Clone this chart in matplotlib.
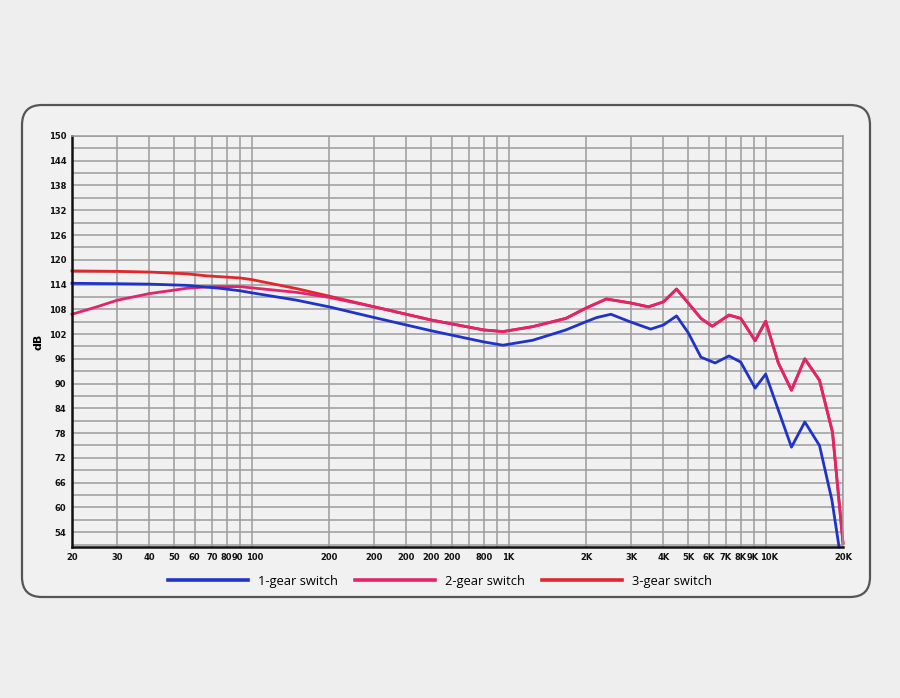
import matplotlib
matplotlib.use("Agg")
import matplotlib.pyplot as plt
import matplotlib.transforms as mtransforms
from matplotlib.patches import FancyBboxPatch
from matplotlib.lines import Line2D

# frequency response readings (Hz, dB)
blue_freq = [20, 30, 40, 56, 75, 90, 100, 150, 200, 300, 500, 800, 950, 1240, 1670, 2000, 2200,
             2500, 2960, 3570, 4000, 4500, 5000, 5600, 6360, 7200, 8000, 9100, 10000, 11200,
             12600, 14200, 16200, 18100, 19300]
blue_db = [114.3, 114.2, 114.1, 113.8, 113.1, 112.5, 112.0, 110.2, 108.6, 106.0, 102.8, 100.1,
           99.3, 100.5, 103.0, 105.0, 106.0, 106.8, 105.0, 103.2, 104.2, 106.4, 102.3, 96.4,
           95.0, 96.7, 95.2, 88.9, 92.3, 83.6, 74.6, 80.7, 75.0, 61.8, 50.4]

pink_freq = [20, 25, 30, 40, 56, 70, 90, 100, 150, 200, 300, 500, 800, 950, 1240, 1670, 2000,
             2400, 3000, 3500, 4000, 4500, 5000, 5600, 6200, 7200, 8000, 9100, 10000, 11200,
             12600, 14200, 16200, 18200, 20000]
pink_db = [106.8, 108.6, 110.2, 111.8, 113.1, 113.5, 113.5, 113.2, 112.1, 110.9, 108.6, 105.4,
           103.0, 102.6, 103.8, 105.8, 108.3, 110.5, 109.5, 108.6, 109.8, 112.9, 109.5, 105.8,
           103.9, 106.6, 105.8, 100.4, 105.1, 95.0, 88.4, 96.0, 90.8, 78.2, 51.3]

# 3-gear only differs below 300 Hz, above that it runs under the 2-gear curve
red_low_freq = [20, 30, 41, 56, 67, 90, 100, 150, 200]
red_low_db = [117.3, 117.2, 117.0, 116.6, 116.1, 115.6, 115.2, 113.0, 111.2]
red_freq = red_low_freq + pink_freq[10:]
red_db = red_low_db + pink_db[10:]

xticks = [20, 30, 40, 50, 60, 70, 80, 90, 100, 200, 300, 400, 500, 600, 700, 800, 900, 1000,
          2000, 3000, 4000, 5000, 6000, 7000, 8000, 9000, 10000, 20000]
xlabels = ["20", "30", "40", "50", "60", "70", "80", "90", "100", "200", "200", "200", "200",
           "200", "", "800", "", "1K", "2K", "3K", "4K", "5K", "6K", "7K", "8K", "9K", "10K", "20K"]

blue_c = "#1f33c9"
pink_c = "#e2246d"
red_c = "#e2262c"

fig = plt.figure(figsize=(9, 6.98), dpi=100, facecolor="#eeeeee")

box = FancyBboxPatch((0.22, 1.01), 8.48, 4.92, boxstyle="round,pad=0,rounding_size=0.2",
                     transform=fig.dpi_scale_trans, facecolor="#f1f1f1", edgecolor="#555555",
                     linewidth=1.6, zorder=-5)
fig.patches.append(box)

ax = fig.add_axes([0.08, 0.2163, 0.8567, 0.5889])
ax.set_facecolor("#f1f1f1")
ax.set_xscale("log")
ax.set_xlim(20, 20000)
ax.set_ylim(50.4, 150)

ax.set_xticks(xticks)
ax.set_xticklabels(xlabels)
ax.xaxis.set_minor_locator(matplotlib.ticker.NullLocator())
ax.set_yticks(range(54, 151, 6))
ax.set_yticks(range(51, 151, 3), minor=True)
ax.grid(True, which="both", color="#9c9c9c", linewidth=1.1)
ax.set_axisbelow(True)
ax.tick_params(which="both", length=0, labelsize=6, colors="#111111", pad=4)
for lab in ax.get_xticklabels() + ax.get_yticklabels():
    lab.set_fontweight("bold")

# crowded pairs (90/100, 9K/10K): nudge apart a little
xl = ax.get_xticklabels()
for i, dx in [(7, -3), (8, 3), (25, -1), (26, 3)]:
    xl[i].set_transform(xl[i].get_transform() +
                        mtransforms.ScaledTranslation(dx / 100, 0, fig.dpi_scale_trans))

for side in ["top", "right"]:
    ax.spines[side].set_color("#9c9c9c")
    ax.spines[side].set_linewidth(1.1)
for side in ["left", "bottom"]:
    ax.spines[side].set_color("#111111")
    ax.spines[side].set_linewidth(1.8)

ax.set_ylabel("dB", fontsize=8, fontweight="bold", labelpad=4)

ax.plot(red_freq, red_db, color=red_c, linewidth=2.0, clip_on=False)
ax.plot(pink_freq, pink_db, color=pink_c, linewidth=2.0, clip_on=False)
ax.plot(blue_freq, blue_db, color=blue_c, linewidth=2.0, clip_on=False)

handles = [Line2D([], [], color=blue_c, linewidth=2.6),
           Line2D([], [], color=pink_c, linewidth=2.6),
           Line2D([], [], color=red_c, linewidth=2.6)]
fig.legend(handles, ["1-gear switch", "2-gear switch", "3-gear switch"], loc="center",
           bbox_to_anchor=(0.489, 1 - 581 / 698), ncol=3, frameon=False, handlelength=6.2,
           handletextpad=0.8, columnspacing=1.3, prop={"family": "Open Sans", "size": 9.3})

fig.savefig("out.png", dpi=100, facecolor=fig.get_facecolor())
